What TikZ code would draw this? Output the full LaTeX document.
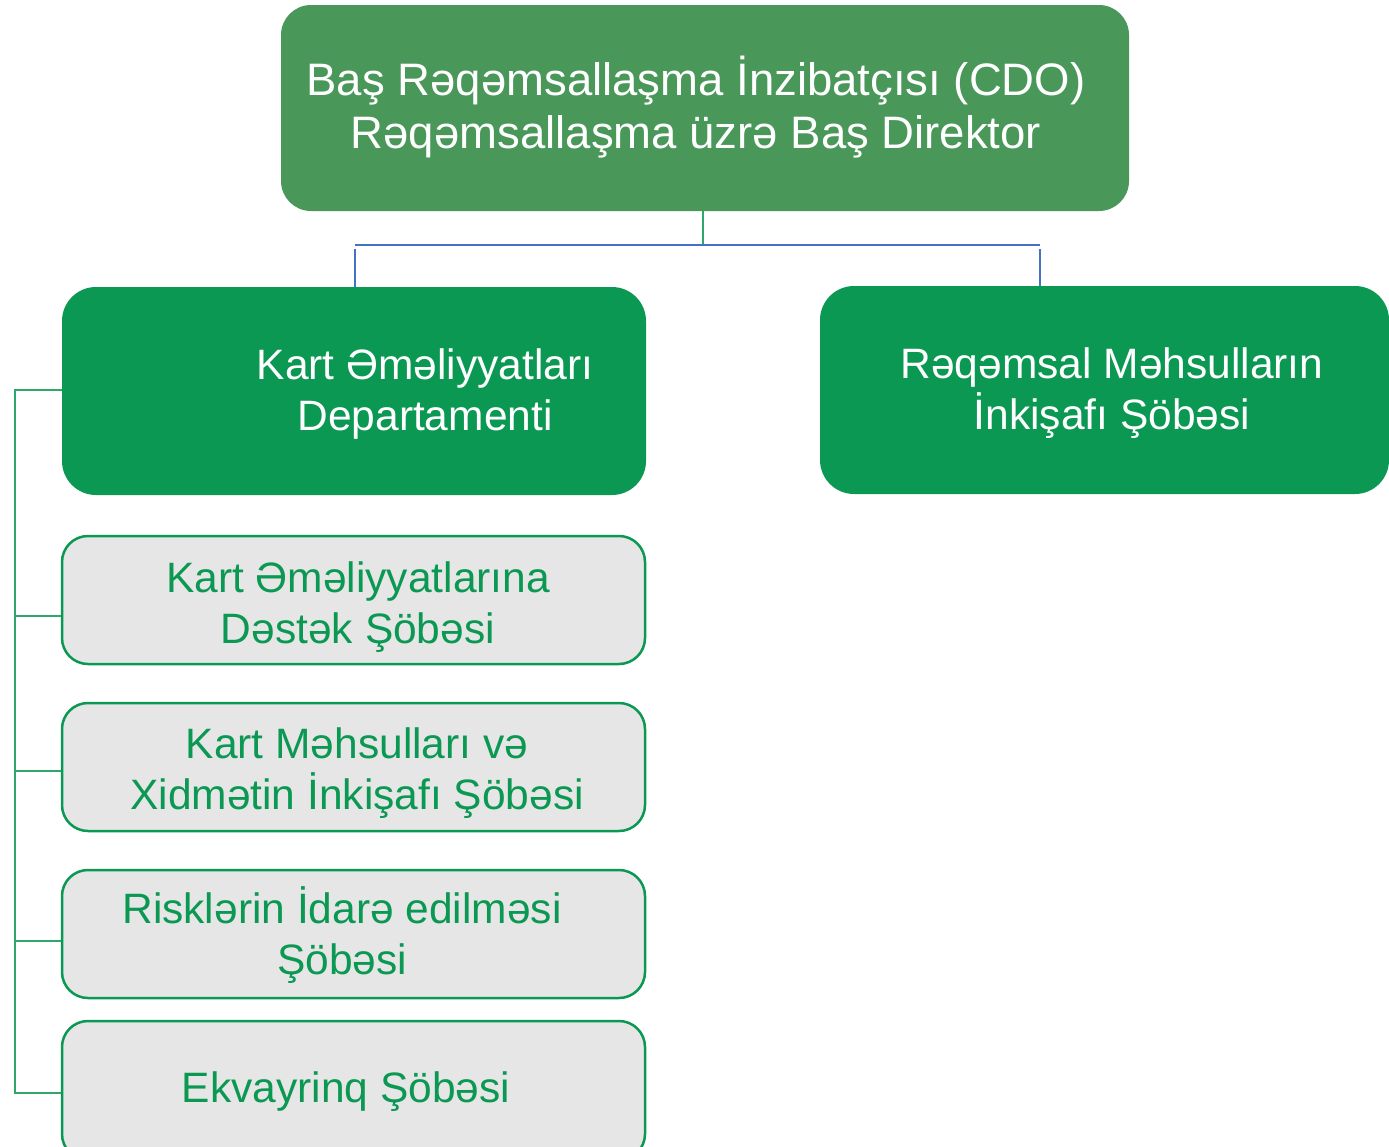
\documentclass[tikz,border=0pt]{standalone}
\usepackage{fontspec}
\setmainfont{Liberation Sans}
\definecolor{topgreen}{RGB}{73,151,89}
\definecolor{boxgreen}{RGB}{10,152,83}
\definecolor{greyfill}{RGB}{230,230,230}
\definecolor{bluelink}{RGB}{68,114,196}
\definecolor{linkgreen}{RGB}{46,168,106}
\begin{document}
\begin{tikzpicture}[x=1pt,y=-1pt]
\useasboundingbox (0,0) rectangle (1389,1146);
\tikzset{
  topbox/.style={fill=topgreen, draw=none, rounded corners=30pt, inner sep=0pt},
  greenbox/.style={fill=boxgreen, draw=none, rounded corners=34pt, inner sep=0pt, minimum width=584pt, minimum height=208pt},
  greybox/.style={fill=greyfill, draw=boxgreen, line width=2.5pt, rounded corners=26pt, inner sep=0pt, minimum width=583pt, minimum height=128pt},
  boxtext/.style={font=\fontsize{42.5}{51}\selectfont, align=center, inner sep=0pt},
  wtext/.style={boxtext, text=white},
  gtext/.style={boxtext, text=boxgreen},
  bluecon/.style={draw=bluelink, line width=2.5pt},
  topcon/.style={draw=linkgreen, line width=1.5pt},
  leftcon/.style={draw=linkgreen, line width=1.8pt}
}
% boxes
\node[topbox, minimum width=848pt, minimum height=206pt] (top) at (705,108) {};
\node[greenbox] (L) at (354,391) {};
\node[greenbox, minimum width=569pt] (R) at (1104.5,390) {};
\node[greybox] (G1) at (353.5,600) {};
\node[greybox] (G2) at (353.5,767) {};
\node[greybox] (G3) at (353.5,934) {};
\node[greybox, minimum height=139pt] (G4) at (353.5,1090.5) {};
% texts
\node[wtext, font=\fontsize{45.5}{53}\selectfont] (toptext) at (696,107) {Baş Rəqəmsallaşma İnzibatçısı (CDO)\\Rəqəmsallaşma üzrə Baş Direktor};
\node[wtext] (Ltext) at (425,394) {Kart Əməliyyatları\\Departamenti};
\node[wtext] (Rtext) at (1112,393) {Rəqəmsal Məhsulların\\İnkişafı Şöbəsi};
\node[gtext] (G1text) at (358,607) {Kart Əməliyyatlarına\\Dəstək Şöbəsi};
\node[gtext] (G2text) at (357,773) {Kart Məhsulları və\\Xidmətin İnkişafı Şöbəsi};
\node[gtext] (G3text) at (342,935) {Risklərin İdarə edilməsi\\Şöbəsi};
\node[gtext] (G4text) at (346,1092) {Ekvayrinq Şöbəsi};
% top connectors
\coordinate (bus) at (703,245);
\coordinate (busL) at (355,245);
\coordinate (busR) at (1040,245);
\draw[topcon] (top.south -| bus) -- (bus);
\draw[bluecon] (busL) -- (busR);
\draw[bluecon] (355,249) -- (L.north -| busL);
\draw[bluecon] (1040,249) -- (R.north -| busR);
% left connectors
\coordinate (spine) at (15,1093);
\draw[leftcon] (L.west |- 0,390) -| (spine) -- (G4.west |- spine);
\draw[leftcon] (15,616) -- (G1.west |- 0,616);
\draw[leftcon] (15,771) -- (G2.west |- 0,771);
\draw[leftcon] (15,941) -- (G3.west |- 0,941);
\end{tikzpicture}
\end{document}
